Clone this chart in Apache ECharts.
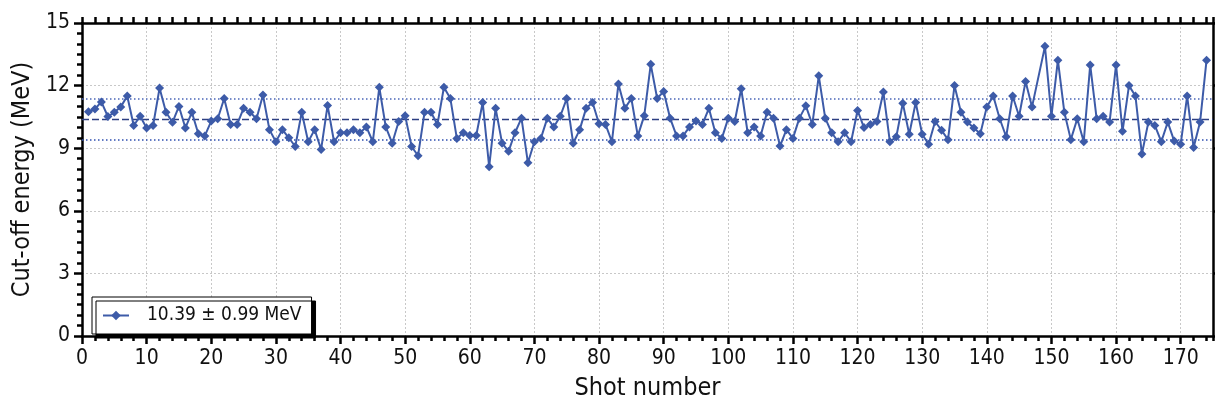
<!DOCTYPE html>
<html>
<head>
<meta charset="utf-8">
<script src="https://cdn.jsdelivr.net/npm/echarts@6/dist/echarts.min.js"></script>
<style>
  html, body { margin: 0; padding: 0; background: #fff; }
  #chart { width: 1215px; height: 406px; }
</style>
</head>
<body>
<div id="chart"></div>
<script>
// Cut-off energy per shot (MeV); shot 148 has no measurement.
const energies = [
  10.75, 10.88, 11.22, 10.52, 10.72, 10.98, 11.50, 10.09, 10.53, 9.97,
  10.09, 11.88, 10.72, 10.24, 11.00, 9.97, 10.72, 9.69, 9.59, 10.30,
  10.41, 11.38, 10.14, 10.14, 10.91, 10.72, 10.41, 11.55, 9.89, 9.31,
  9.89, 9.50, 9.08, 10.72, 9.31, 9.89, 8.94, 11.05, 9.31, 9.74,
  9.74, 9.88, 9.74, 10.02, 9.31, 11.92, 10.02, 9.24, 10.28, 10.56,
  9.08, 8.64, 10.72, 10.72, 10.14, 11.92, 11.38, 9.47, 9.74, 9.61,
  9.61, 11.19, 8.11, 10.91, 9.24, 8.85, 9.74, 10.44, 8.30, 9.31,
  9.47, 10.44, 10.02, 10.53, 11.38, 9.24, 9.88, 10.91, 11.19, 10.17,
  10.14, 9.31, 12.08, 10.91, 11.38, 9.59, 10.56, 13.02, 11.38, 11.72,
  10.44, 9.59, 9.59, 10.02, 10.30, 10.14, 10.91, 9.74, 9.47, 10.44,
  10.28, 11.85, 9.74, 10.02, 9.59, 10.72, 10.44, 9.10, 9.89, 9.47,
  10.44, 11.03, 10.14, 12.47, 10.44, 9.74, 9.31, 9.74, 9.31, 10.81,
  9.99, 10.13, 10.28, 11.69, 9.31, 9.55, 11.16, 9.67, 11.19, 9.67,
  9.19, 10.28, 9.86, 9.41, 12.00, 10.72, 10.25, 9.97, 9.69, 10.98,
  11.50, 10.41, 9.55, 11.50, 10.53, 12.20, 10.98, null, 13.88, 10.53,
  13.22, 10.72, 9.41, 10.41, 9.31, 12.99, 10.41, 10.53, 10.25, 12.99,
  9.81, 12.00, 11.50, 8.72, 10.25, 10.09, 9.31, 10.25, 9.34, 9.19,
  11.50, 9.03, 10.25, 13.22
];
const firstShot = 1;
const MEAN = 10.39;
const SD = 0.99;

const xTicks = { min: 0, max: 175, step: 10, minorStep: 2 };
const yTicks = { min: 0, max: 15, step: 3, minorStep: 0.5 };

const points = energies.map((e, i) => [firstShot + i, e]);

const FONT = '"DejaVu Sans Condensed", "DejaVu Sans", sans-serif';
const LINE_BLUE = '#3d5ba8';
const AXIS_W = 2.5;

const chart = echarts.init(document.getElementById('chart'), null, { renderer: 'canvas' });

const gridDotted = { show: true, lineStyle: { color: '#c8c8c8', type: [2, 2], width: 1 } };

const option = {
  animation: false,
  backgroundColor: '#ffffff',
  grid: { left: 82, right: 2, top: 23, bottom: 64, containLabel: false },
  legend: {
    left: 92, top: 297,
    orient: 'horizontal',
    padding: [9, 10, 9, 10],
    itemWidth: 26, itemHeight: 12,
    backgroundColor: '#ffffff',
    borderColor: '#000000', borderWidth: 1, borderRadius: 0,
    shadowColor: '#000000', shadowBlur: 0, shadowOffsetX: 4, shadowOffsetY: 4,
    textStyle: { fontFamily: FONT, fontSize: 19, color: '#111', padding: [0, 2, 0, 13] },
    data: [`${MEAN.toFixed(2)} ± ${SD.toFixed(2)} MeV`]
  },
  xAxis: [
    {
      type: 'value', position: 'bottom',
      min: xTicks.min, max: xTicks.max, interval: xTicks.step,
      name: 'Shot number', nameLocation: 'middle', nameGap: 40,
      nameTextStyle: { fontFamily: FONT, fontSize: 25, color: '#111' },
      axisLine: { show: true, onZero: false, lineStyle: { color: '#000', width: AXIS_W } },
      axisTick: { show: true, inside: false, length: 8, lineStyle: { color: '#000', width: 2.5 } },
      axisLabel: { show: true, margin: 12, fontFamily: FONT, fontSize: 21, color: '#111', showMaxLabel: false },
      splitLine: gridDotted
    },
    {
      // minor ticks along the bottom edge
      type: 'value', position: 'bottom',
      min: xTicks.min, max: xTicks.max, interval: xTicks.minorStep,
      axisLine: { show: false, onZero: false },
      axisTick: { show: true, inside: false, length: 5, lineStyle: { color: '#000', width: 2.5 } },
      axisLabel: { show: false },
      splitLine: { show: false }
    },
    {
      // top frame with ticks
      type: 'value', position: 'top',
      min: xTicks.min, max: xTicks.max, interval: xTicks.minorStep,
      axisLine: { show: true, onZero: false, lineStyle: { color: '#000', width: AXIS_W } },
      axisTick: { show: true, inside: false, length: 6, lineStyle: { color: '#000', width: 2.5 } },
      axisLabel: { show: false },
      splitLine: { show: false }
    }
  ],
  yAxis: [
    {
      type: 'value', position: 'left',
      min: yTicks.min, max: yTicks.max, interval: yTicks.step,
      name: 'Cut-off energy (MeV)', nameLocation: 'middle', nameGap: 46,
      nameTextStyle: { fontFamily: FONT, fontSize: 25, color: '#111' },
      axisLine: { show: true, onZero: false, lineStyle: { color: '#000', width: AXIS_W } },
      axisTick: { show: true, inside: false, length: 8, lineStyle: { color: '#000', width: 2.5 } },
      minorTick: { show: true, splitNumber: yTicks.step / yTicks.minorStep, length: 5, lineStyle: { color: '#000', width: 2.5 } },
      axisLabel: { show: true, margin: 12, fontFamily: FONT, fontSize: 21, color: '#111' },
      splitLine: gridDotted
    },
    {
      type: 'value', position: 'right',
      min: yTicks.min, max: yTicks.max, interval: yTicks.step,
      axisLine: { show: true, onZero: false, lineStyle: { color: '#000', width: AXIS_W } },
      axisTick: { show: true, inside: false, length: 6, lineStyle: { color: '#000', width: 2.5 } },
      axisLabel: { show: false },
      splitLine: { show: false }
    }
  ],
  series: [
    {
      name: `${MEAN.toFixed(2)} ± ${SD.toFixed(2)} MeV`,
      type: 'line',
      xAxisIndex: 0, yAxisIndex: 0,
      data: points,
      connectNulls: true,
      symbol: 'diamond', symbolSize: 9,
      itemStyle: { color: LINE_BLUE },
      lineStyle: { color: LINE_BLUE, width: 2 },
      z: 3,
      markLine: {
        silent: true,
        symbol: ['none', 'none'],
        label: { show: false },
        z: 2,
        data: [
          { yAxis: MEAN, lineStyle: { color: '#2d3f82', type: [7, 3], width: 1.3 } },
          { yAxis: MEAN + SD, lineStyle: { color: '#4a66b8', type: [1.5, 2.5], width: 1.5 } },
          { yAxis: MEAN - SD, lineStyle: { color: '#2f4fb0', type: [1.5, 2.5], width: 1.5 } }
        ]
      }
    }
  ]
};

chart.setOption(option);
</script>
</body>
</html>
